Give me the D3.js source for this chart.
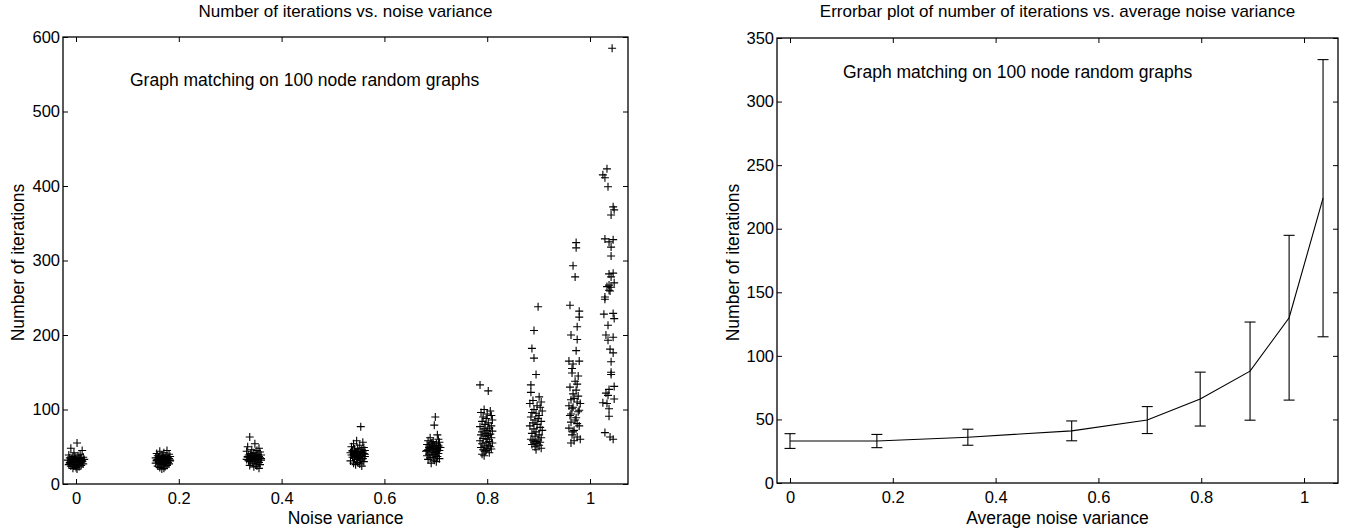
<!DOCTYPE html>
<html><head><meta charset="utf-8">
<script src="https://cdn.jsdelivr.net/npm/d3@7"></script>
<style>
body{margin:0;background:#fff}
text{font-family:"Liberation Sans",Arial,Helvetica,sans-serif;fill:#000}
</style>
</head><body>
<svg id="chart" width="1348" height="531"></svg>
<script>
// Noise levels used in the experiment (average noise variance per run)
const noiseLevels = [0.000, 0.169, 0.346, 0.548, 0.695, 0.798, 0.895, 0.971, 1.037];

// Individual trials per noise level: [x offset in thousandths, iterations]
const trials0 = [[2,55],[-10,48],[12,45],[-4,42],[8,40],[-14,39],[4,38],[-6,37],[14,36],[-2,36],[10,35],[-12,35],[6,34],[-8,34],[0,33],[16,33],[-16,32],[4,32],[-4,32],[10,31],[-10,31],[2,30],[-6,30],[12,30],[-2,29],[8,29],[-12,28],[6,28],[-8,27],[14,27],[0,26],[-14,26],[4,25],[10,25],[-4,24],[-10,24],[6,23],[0,22],[-6,21],[2,20],[-8,33],[8,34],[12,31],[-12,29],[-2,36]];
const trials1 = [[8,45],[-6,44],[2,42],[-12,41],[12,40],[-2,39],[6,38],[-10,38],[14,37],[0,37],[-8,36],[10,36],[-14,35],[4,35],[-4,34],[12,34],[-10,33],[2,33],[8,33],[-6,32],[14,32],[0,31],[-12,31],[6,30],[-2,30],[10,29],[-8,29],[4,28],[-14,28],[12,27],[-4,27],[0,26],[8,25],[-10,24],[4,23],[-6,22],[2,21],[-2,20],[10,34],[-12,32],[6,30],[-8,35],[14,31],[-4,33],[0,36]];
const trials2 = [[-8,63],[2,54],[-12,50],[10,48],[-4,46],[6,45],[-14,44],[12,43],[0,42],[-6,41],[8,40],[-10,39],[14,39],[2,38],[-2,38],[10,37],[-12,37],[4,36],[-8,36],[12,35],[0,35],[-4,34],[8,34],[-14,33],[6,33],[-10,32],[14,32],[2,31],[-6,30],[10,29],[-2,28],[4,27],[12,26],[-8,25],[6,24],[0,23],[10,21],[-12,36],[8,35],[-4,38],[14,34],[4,40],[-10,31],[2,33],[-6,37]];
const trials3 = [[6,77],[-2,58],[10,56],[-8,54],[4,52],[-12,50],[12,49],[0,48],[-6,47],[8,46],[-10,45],[14,45],[2,44],[-4,43],[10,43],[-14,42],[6,42],[-2,41],[12,41],[-8,40],[4,40],[0,39],[-12,39],[8,38],[-4,38],[14,37],[-10,36],[2,36],[-6,35],[10,34],[-2,33],[6,32],[-14,31],[12,30],[0,29],[-8,28],[4,27],[-4,26],[8,24],[-10,44],[10,41],[-6,39],[2,37],[14,40],[-2,42]];
const trials4 = [[4,90],[2,79],[8,66],[-6,62],[10,60],[-10,58],[0,57],[12,56],[-4,55],[6,54],[-12,53],[2,52],[-8,51],[10,50],[-2,50],[14,49],[4,48],[-6,48],[8,47],[-10,46],[0,46],[12,45],[-14,44],[6,44],[-4,43],[2,42],[10,41],[-8,40],[-2,40],[4,39],[-12,38],[8,37],[0,36],[-6,35],[12,34],[-10,33],[2,32],[6,30],[-4,28],[10,52],[-8,49],[0,47],[-12,45],[6,43],[-2,55]];
const trials5 = [[-12,133],[4,125],[-4,100],[8,98],[-10,96],[2,94],[10,92],[-6,90],[0,88],[12,86],[-8,84],[4,82],[-2,80],[10,78],[-12,77],[6,75],[-4,74],[2,72],[12,71],[-8,70],[0,68],[8,67],[-10,66],[4,65],[-2,64],[10,62],[-6,61],[2,60],[-12,58],[6,57],[0,56],[12,55],[-8,54],[4,52],[-4,51],[8,50],[-10,49],[2,48],[10,47],[-6,46],[0,45],[-2,44],[6,42],[-8,40],[-4,38]];
const trials6 = [[4,238],[-4,206],[-8,182],[-4,169],[0,147],[-10,133],[-10,123],[6,117],[-6,112],[10,110],[-12,108],[2,105],[8,103],[-4,100],[12,98],[-8,96],[0,95],[6,92],[-10,90],[4,88],[-2,86],[10,84],[-6,82],[2,80],[-12,78],[8,76],[-4,74],[12,72],[0,70],[-8,68],[6,66],[-2,64],[10,62],[-10,60],[4,59],[-6,58],[0,57],[8,56],[-4,55],[2,54],[-8,53],[6,52],[-2,50],[10,48],[0,46]];
const trials7 = [[2,324],[2,317],[-4,293],[0,278],[-10,240],[8,232],[8,224],[4,211],[-8,200],[4,194],[2,179],[-12,165],[8,165],[-4,161],[-6,149],[0,138],[4,134],[2,126],[-4,121],[-8,113],[4,110],[-12,105],[-4,103],[8,99],[-8,94],[2,89],[-8,83],[4,81],[-12,75],[-2,72],[-6,66],[4,63],[-8,55],[6,118],[-2,115],[10,108],[-6,101],[6,97],[-10,92],[0,86],[8,78],[-4,70],[10,60],[-2,58],[6,145],[-6,155],[-10,130]];
const trials8 = [[6,585],[-4,423],[-12,415],[-8,411],[-2,399],[8,372],[10,368],[4,361],[-8,329],[8,328],[0,325],[4,318],[4,306],[0,282],[8,283],[4,278],[10,270],[0,267],[-4,265],[4,264],[0,260],[-8,251],[2,259],[-8,248],[-10,228],[8,229],[10,222],[-2,213],[-6,200],[8,197],[-2,193],[2,181],[8,176],[4,164],[4,150],[4,147],[10,131],[0,127],[-6,122],[-2,119],[10,114],[-12,109],[-4,108],[0,101],[0,91],[-8,69],[2,63],[8,60]];
const trialsByLevel = [trials0, trials1, trials2, trials3, trials4, trials5, trials6, trials7, trials8];

// Summary per noise level: mean iterations and standard deviation
const meanIterations = [33, 33, 36, 41, 49.5, 66, 88, 130, 224];
const stdIterations  = [5.8, 5.2, 6.3, 7.8, 10.6, 21.2, 38.6, 64.8, 109];

// Axis ticks
const xTicks = [0, 0.2, 0.4, 0.6, 0.8, 1];
const yTicksLeft = [0, 100, 200, 300, 400, 500, 600];
const yTicksRight = [0, 50, 100, 150, 200, 250, 300, 350];

const svg = d3.select("#chart");
const fmt = d3.format("~g");
const TICK = 5;
const FONT = '"Liberation Sans",Arial,sans-serif';

function drawFrame(g, x, y, yTicks, w, h) {
  const bottom = g.append("g").attr("transform", `translate(0,${h})`)
    .call(d3.axisBottom(x).tickValues(xTicks).tickSizeInner(-TICK).tickSizeOuter(0).tickPadding(8).tickFormat(fmt));
  const top = g.append("g")
    .call(d3.axisTop(x).tickValues(xTicks).tickSizeInner(-TICK).tickSizeOuter(0).tickFormat(""));
  const left = g.append("g")
    .call(d3.axisLeft(y).tickValues(yTicks).tickSizeInner(-TICK).tickSizeOuter(0).tickPadding(3).tickFormat(fmt));
  const right = g.append("g").attr("transform", `translate(${w},0)`)
    .call(d3.axisRight(y).tickValues(yTicks).tickSizeInner(-TICK).tickSizeOuter(0).tickFormat(""));
  [bottom, top, left, right].forEach(a => {
    a.select(".domain").remove();
    a.selectAll("line").attr("stroke", "#000");
    a.selectAll("text").attr("font-size", 16.5).attr("font-family", FONT).attr("fill", "#000");
  });
  g.append("rect").attr("x", 0).attr("y", 0).attr("width", w).attr("height", h)
    .attr("fill", "none").attr("stroke", "#000").attr("stroke-width", 1.3);
}

// ---- Left panel: scatter of all trials ----
{
  const L = {x: 63, y: 37, w: 565, h: 447};
  const g = svg.append("g").attr("transform", `translate(${L.x},${L.y})`);
  const x = d3.scaleLinear().domain([-0.0253, 1.0739]).range([0, L.w]);
  const y = d3.scaleLinear().domain([0, 600]).range([L.h, 0]);

  const pts = [];
  trialsByLevel.forEach((arr, i) => arr.forEach(([dx, v]) => pts.push([noiseLevels[i] + dx / 1000, v])));

  g.append("g").selectAll("path").data(pts).join("path")
    .attr("transform", d => `translate(${x(d[0])},${y(d[1])})`)
    .attr("d", "M-4,0H4M0,-4V4")
    .attr("stroke", "#000").attr("stroke-width", 1.1).attr("fill", "none");

  drawFrame(g, x, y, yTicksLeft, L.w, L.h);

  g.append("text").attr("x", 67).attr("y", 49).attr("font-size", 17.5)
    .text("Graph matching on 100 node random graphs");
  svg.append("text").attr("x", L.x + L.w / 2).attr("y", 17).attr("text-anchor", "middle").attr("font-size", 17)
    .text("Number of iterations vs. noise variance");
  svg.append("text").attr("x", L.x + L.w / 2).attr("y", 524).attr("text-anchor", "middle").attr("font-size", 17.5)
    .text("Noise variance");
  svg.append("text").attr("transform", `translate(24,${L.y + L.h / 2 + 2}) rotate(-90)`).attr("text-anchor", "middle").attr("font-size", 17.5)
    .text("Number of iterations");
}

// ---- Right panel: mean with standard-deviation error bars ----
{
  const R = {x: 777, y: 38, w: 561, h: 445};
  const g = svg.append("g").attr("transform", `translate(${R.x},${R.y})`);
  const x = d3.scaleLinear().domain([-0.0253, 1.0661]).range([0, R.w]);
  const y = d3.scaleLinear().domain([0, 350]).range([R.h, 0]);
  const summary = noiseLevels.map((n, i) => ({n, m: meanIterations[i], s: stdIterations[i]}));

  g.append("path").datum(summary)
    .attr("d", d3.line().x(d => x(d.n)).y(d => y(d.m)))
    .attr("fill", "none").attr("stroke", "#000").attr("stroke-width", 1.1);

  const cap = 5.5;
  const bars = g.append("g").selectAll("g").data(summary).join("g");
  bars.append("line").attr("x1", d => x(d.n)).attr("x2", d => x(d.n))
    .attr("y1", d => y(d.m - d.s)).attr("y2", d => y(d.m + d.s));
  bars.append("line").attr("x1", d => x(d.n) - cap).attr("x2", d => x(d.n) + cap)
    .attr("y1", d => y(d.m + d.s)).attr("y2", d => y(d.m + d.s));
  bars.append("line").attr("x1", d => x(d.n) - cap).attr("x2", d => x(d.n) + cap)
    .attr("y1", d => y(d.m - d.s)).attr("y2", d => y(d.m - d.s));
  bars.selectAll("line").attr("stroke", "#000").attr("stroke-width", 1.1);

  drawFrame(g, x, y, yTicksRight, R.w, R.h);

  g.append("text").attr("x", 66).attr("y", 40).attr("font-size", 17.5)
    .text("Graph matching on 100 node random graphs");
  svg.append("text").attr("x", R.x + R.w / 2).attr("y", 17).attr("text-anchor", "middle").attr("font-size", 17)
    .text("Errorbar plot of number of iterations vs. average noise variance");
  svg.append("text").attr("x", R.x + R.w / 2).attr("y", 524).attr("text-anchor", "middle").attr("font-size", 17.5)
    .text("Average noise variance");
  svg.append("text").attr("transform", `translate(739,${R.y + R.h / 2 + 2}) rotate(-90)`).attr("text-anchor", "middle").attr("font-size", 17.5)
    .text("Number of iterations");
}
</script>
</body></html>
